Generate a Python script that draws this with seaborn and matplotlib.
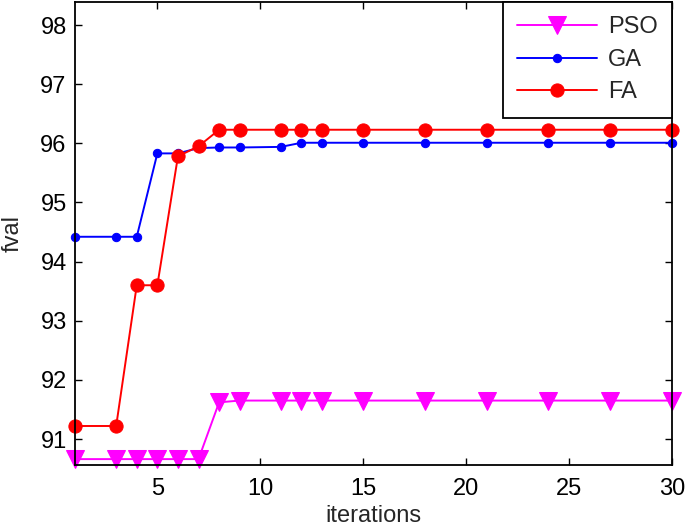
import pandas as pd
import matplotlib
matplotlib.use('Agg')
import matplotlib.pyplot as plt
import seaborn as sns

# iterations at which a value was recorded
iterations = [1, 3, 4, 5, 6, 7, 8, 9, 11, 12, 13, 15, 18, 21, 24, 27, 30]

pso_vals = [90.66, 90.66, 90.66, 90.66, 90.66, 90.66, 91.62, 91.65, 91.65,
            91.65, 91.65, 91.65, 91.65, 91.65, 91.65, 91.65, 91.65]
ga_vals = [94.42, 94.42, 94.42, 95.83, 95.83, 95.92, 95.93, 95.93, 95.94,
           96.01, 96.01, 96.01, 96.01, 96.01, 96.01, 96.01, 96.01]
fa_vals = [91.22, 91.22, 93.60, 93.60, 95.78, 95.95, 96.23, 96.23, 96.23,
           96.23, 96.23, 96.23, 96.23, 96.23, 96.23, 96.23, 96.23]

x_ticks = [5, 10, 15, 20, 25, 30]
y_ticks = [91, 92, 93, 94, 95, 96, 97, 98]

sns.set_style('ticks')
plt.rcParams['font.family'] = ['Liberation Sans', 'DejaVu Sans']

fig = plt.figure(figsize=(6.85, 5.3), dpi=100)
ax = fig.add_axes([0.1095, 0.1226, 0.8715, 0.8736])

df = pd.DataFrame({'iterations': iterations, 'PSO': pso_vals,
                   'GA': ga_vals, 'FA': fa_vals})

sns.lineplot(data=df, x='iterations', y='PSO', ax=ax, color='#ff00ff',
             marker='v', markersize=13, markeredgecolor='#ff00ff',
             linewidth=1.4, label='PSO', clip_on=False)
sns.lineplot(data=df, x='iterations', y='GA', ax=ax, color='#0000ff',
             marker='o', markersize=6, markeredgecolor='#0000ff',
             linewidth=1.4, label='GA', clip_on=False)
sns.lineplot(data=df, x='iterations', y='FA', ax=ax, color='#ff0000',
             marker='o', markersize=9.5, markeredgecolor='#ff0000',
             linewidth=1.4, label='FA', clip_on=False)

ax.set_xlim(1, 30)
ax.set_ylim(90.56, 98.39)
ax.set_xticks(x_ticks)
ax.set_yticks(y_ticks)
ax.tick_params(direction='in', length=5, width=1, labelsize=17,
               top=True, right=True, colors='black')
ax.tick_params(axis='x', pad=9)
ax.tick_params(axis='y', pad=6)
for s in ax.spines.values():
    s.set_color('black')
    s.set_linewidth(1.3)

ax.set_xlabel('iterations', fontsize=17, labelpad=4)
ax.set_ylabel('fval', fontsize=17, labelpad=12)

leg = ax.legend(loc='upper right', fontsize=17, handlelength=3.4,
                fancybox=False, framealpha=1, borderaxespad=0,
                labelspacing=0.45, borderpad=0.6, handletextpad=0.45)
leg.get_frame().set_edgecolor('black')
leg.get_frame().set_linewidth(1.3)
leg.set_zorder(5)

fig.savefig('out.png', dpi=100)
